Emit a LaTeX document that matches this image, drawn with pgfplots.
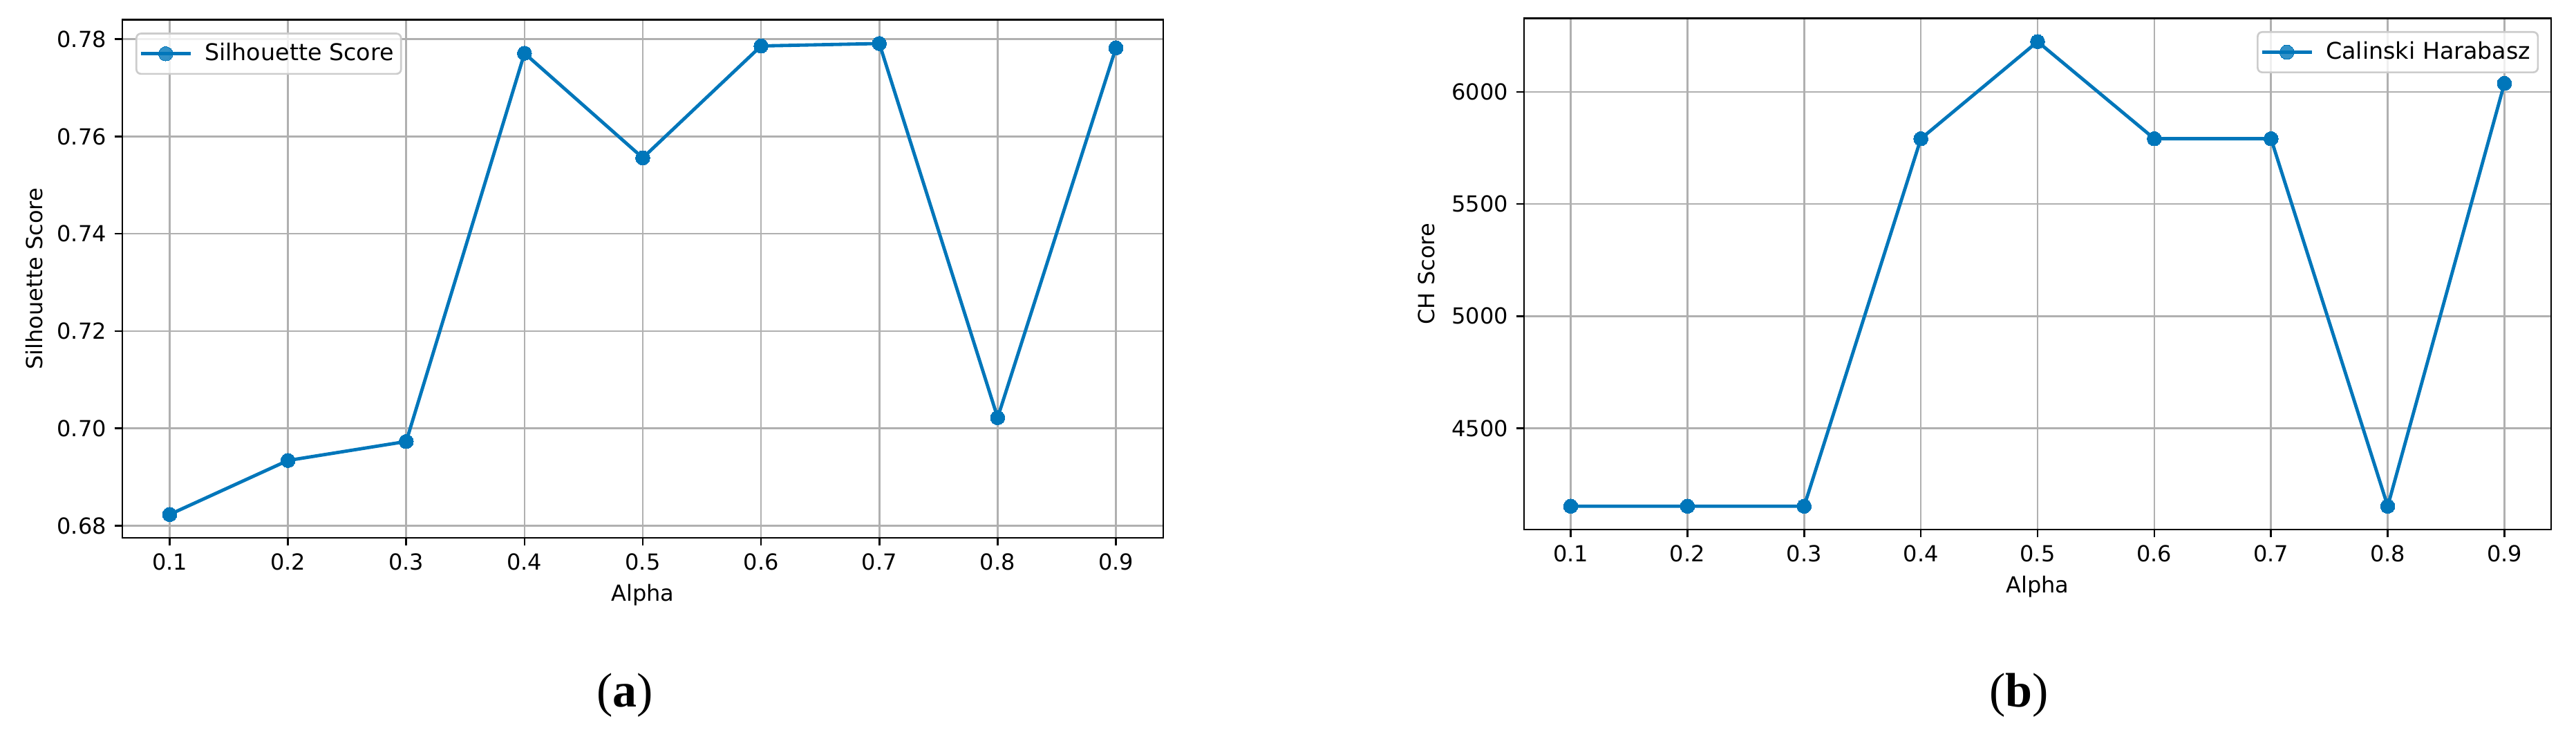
\documentclass[border=0pt]{standalone}
\usepackage{fontspec}
\setmainfont{DejaVu Sans}
\newfontfamily\capfont{Liberation Serif}
\usepackage{pgfplots}
\pgfplotsset{compat=1.18}
\definecolor{sblue}{RGB}{0,118,186}
\definecolor{gridgray}{RGB}{176,176,176}
\definecolor{legedge}{RGB}{204,204,204}

\pgfplotstableread{
x y
0.1 0.6823
0.2 0.6934
0.3 0.6973
0.4 0.7771
0.5 0.7556
0.6 0.7786
0.7 0.7791
0.8 0.7022
0.9 0.7782
}\silh

\pgfplotstableread{
x y
0.1 4152
0.2 4152
0.3 4152
0.4 5791
0.5 6224
0.6 5791
0.7 5791
0.8 4152
0.9 6038
}\chs

\pgfplotsset{
  mystyle/.style={
    scale only axis,
    anchor=south west,
    axis line style={black, line width=0.8pt},
    tick align=outside,
    xtick pos=bottom, ytick pos=left,
    major tick length=3.4pt,
    tick style={black, line width=0.8pt},
    xtick={0.1,0.2,0.3,0.4,0.5,0.6,0.7,0.8,0.9},
    xmin=0.06, xmax=0.94,
    grid=major,
    major grid style={gridgray, line width=0.8pt},
    scaled ticks=false,
    /pgf/number format/assume math mode=true,
    tick label style={font=\fontsize{9.6}{11}\selectfont},
    label style={font=\fontsize{9.6}{11}\selectfont},
    xticklabel style={/pgf/number format/.cd, fixed, fixed zerofill, precision=1},
    xlabel={Alpha},
    legend cell align=left,
    legend style={font=\fontsize{10}{12}\selectfont, draw=legedge, line width=0.8pt,
      rounded corners=2pt, fill=white, fill opacity=0.8, text opacity=1,
      draw opacity=1, inner xsep=1.2pt, inner ysep=2.2pt, nodes={inner sep=2pt}},
    legend image code/.code={%
      \draw[mark repeat=2,mark phase=2] plot coordinates {(0pt,0pt) (10.8pt,0pt) (21.6pt,0pt)};
      \path (25pt,0pt);},
  },
  myline/.style={color=sblue, line width=1.45pt, mark=*, mark size=3.1pt,
    mark options={fill=sblue, draw=sblue, line width=0pt}},
}

\begin{document}
\begin{tikzpicture}
\useasboundingbox (0,0) rectangle (1118.1pt,320.7pt);

\begin{axis}[mystyle,
  at={(53.1pt,87.3pt)}, width=451.8pt, height=224.85pt,
  ymin=0.6775, ymax=0.7840,
  ytick={0.68,0.70,0.72,0.74,0.76,0.78},
  yticklabel style={/pgf/number format/.cd, fixed, fixed zerofill, precision=2},
  ylabel={Silhouette Score},
  ylabel style={at={(axis description cs:-0.0843,0.5)}, anchor=center},
  xlabel style={at={(axis description cs:0.5,-0.1227)}, anchor=base},
  legend style={at={(0.0126,0.975)}, anchor=north west},
]
\addplot[myline] table[x=x,y=y] {\silh};
\addlegendentry{Silhouette Score}
\end{axis}

\begin{axis}[mystyle,
  at={(661.5pt,90.9pt)}, width=445.8pt, height=221.85pt,
  ymin=4048, ymax=6328,
  ytick={4500,5000,5500,6000},
  yticklabel style={/pgf/number format/.cd, fixed, 1000 sep={}},
  ylabel={CH Score},
  ylabel style={at={(axis description cs:-0.0949,0.5)}, anchor=center},
  xlabel style={at={(axis description cs:0.5,-0.1244)}, anchor=base},
  legend style={at={(0.988,0.975)}, anchor=north east},
]
\addplot[myline] table[x=x,y=y] {\chs};
\addlegendentry{Calinski Harabasz}
\end{axis}

\node[font=\capfont\fontsize{21}{25}\selectfont] at (271.2pt,18.9pt) {(\textbf{a})};
\node[font=\capfont\fontsize{21}{25}\selectfont] at (876.3pt,18.9pt) {(\textbf{b})};
\end{tikzpicture}
\end{document}
